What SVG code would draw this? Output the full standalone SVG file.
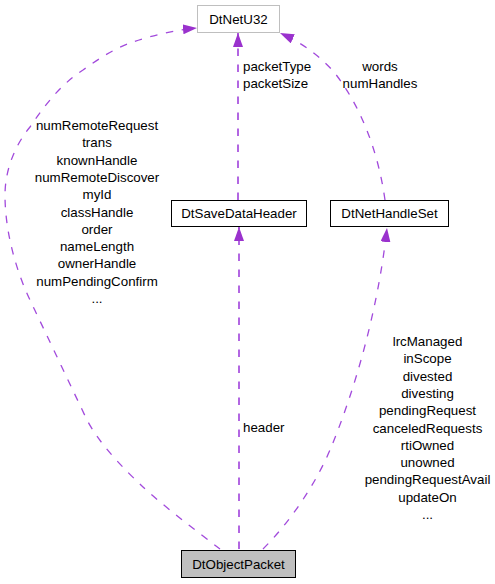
<svg xmlns="http://www.w3.org/2000/svg" width="495" height="584" viewBox="0 0 495 584">
<defs>
<style>
text{font-family:"Liberation Sans",Arial,sans-serif;font-size:13.33px;fill:#000}
.box{fill:#fff;stroke:#000;stroke-width:1}
.edge{fill:none;stroke:#a24adc;stroke-width:1.3;stroke-dasharray:7.5,8.5}
.v{stroke:#b266e2;stroke-width:2}
.m{text-anchor:middle}
</style>
<marker id="arr" viewBox="0 0 14 10" refX="14" refY="5" markerWidth="14" markerHeight="10" markerUnits="userSpaceOnUse" orient="auto">
<polygon points="0,0 14,5 0,10" fill="#9a32cd"/>
</marker>
</defs>
<rect width="495" height="584" fill="#fff"/>
<g id="connectors">
<path class="edge" marker-end="url(#arr)" d="M220,549 C195,530 160,503 143,487 C125,470 100,445 87,420 C68,380 49,340 30,300 C18,275 5,235 5,195 C5,170 15,145 30,127 C45,105 60,85 83,70 C100,58 115,48 133,42 C150,36 175,30 197,28"/>
<path class="edge v" marker-end="url(#arr)" d="M239,549 L239,227"/>
<path class="edge" marker-end="url(#arr)" d="M263,549 C290,522 315,485 330,450 C355,390 378,310 387,228"/>
<path class="edge v" marker-end="url(#arr)" d="M238,200 L238,33"/>
<path class="edge" marker-end="url(#arr)" d="M385,200 C378,150 360,105 334,72 C318,54 300,42 280,33"/>
<text x="97" y="130" class="m">numRemoteRequest</text>
<text x="97" y="147.3" class="m">trans</text>
<text x="97" y="164.6" class="m">knownHandle</text>
<text x="97" y="181.9" class="m">numRemoteDiscover</text>
<text x="97" y="199.2" class="m">myId</text>
<text x="97" y="216.5" class="m">classHandle</text>
<text x="97" y="233.8" class="m">order</text>
<text x="97" y="251.1" class="m">nameLength</text>
<text x="97" y="268.4" class="m">ownerHandle</text>
<text x="97" y="285.7" class="m">numPendingConfirm</text>
<text x="97" y="303" class="m">...</text>
<text x="243" y="432">header</text>
<text x="427.5" y="346" class="m">lrcManaged</text>
<text x="427.5" y="363.3" class="m">inScope</text>
<text x="427.5" y="380.6" class="m">divested</text>
<text x="427.5" y="397.9" class="m">divesting</text>
<text x="427.5" y="415.2" class="m">pendingRequest</text>
<text x="427.5" y="432.5" class="m">canceledRequests</text>
<text x="427.5" y="449.8" class="m">rtiOwned</text>
<text x="427.5" y="467.1" class="m">unowned</text>
<text x="427.5" y="484.4" class="m">pendingRequestAvail</text>
<text x="427.5" y="501.7" class="m">updateOn</text>
<text x="427.5" y="519" class="m">...</text>
<text x="243" y="71">packetType</text>
<text x="243" y="88">packetSize</text>
<text x="380" y="71" class="m">words</text>
<text x="380" y="88" class="m">numHandles</text>
</g>
<g id="DtObjectPacket">
<rect x="181.5" y="550.5" width="114" height="27" fill="#bfbfbf" stroke="#000"/>
<text x="238.5" y="568.5" class="m">DtObjectPacket</text>
</g>
<g id="DtSaveDataHeader">
<rect class="box" x="171.5" y="200.5" width="135" height="26"/>
<text x="239" y="218" class="m">DtSaveDataHeader</text>
</g>
<g id="DtNetHandleSet">
<rect class="box" x="330.5" y="200.5" width="118" height="26"/>
<text x="389.5" y="218" class="m">DtNetHandleSet</text>
</g>
<g id="DtNetU32">
<rect x="197.5" y="5.5" width="82" height="27" fill="#fff" stroke="#bfbfbf"/>
<text x="238.5" y="24" class="m">DtNetU32</text>
</g>
</svg>
